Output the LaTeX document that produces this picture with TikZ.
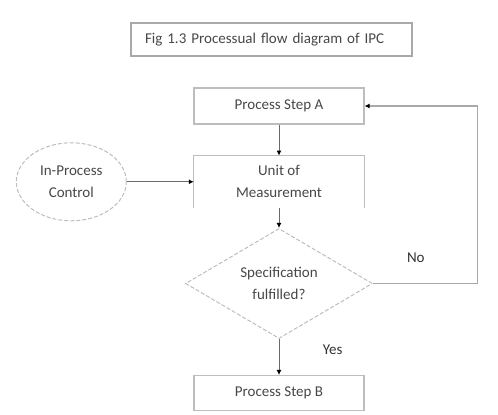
\documentclass[tikz,border=0pt]{standalone}
\usepackage{fontspec}
\setmainfont{Carlito}
\usetikzlibrary{positioning}
\usetikzlibrary{shapes.geometric,arrows.meta}
\definecolor{boxgray}{HTML}{BDBDBD}
\definecolor{linegray}{HTML}{6A6A6A}
\definecolor{loopgray}{HTML}{A9A9A9}
\definecolor{textgray}{HTML}{474747}

\begin{document}
\begin{tikzpicture}[x=1pt,y=1pt,
  >={Latex[length=5pt,width=5pt,color=black]},
  base/.style={align=center,text=textgray,font=\fontsize{15}{22}\selectfont},
  stepbox/.style={base,draw=boxgray,line width=1.2pt,minimum width=170pt},
  titlebox/.style={base,draw=loopgray,line width=2pt,align=left,text width=253pt,inner xsep=14pt,minimum height=33pt},
  decision/.style={base,diamond,draw=boxgray,line width=1pt,dash pattern=on 4pt off 2pt,inner sep=0pt,aspect=1.7,minimum width=187pt,minimum height=110pt},
  control/.style={base,ellipse,draw=boxgray,line width=1pt,dash pattern=on 4pt off 2pt,minimum width=110pt,minimum height=78pt},
  flow/.style={->,linegray,line width=1pt},
  loop/.style={->,loopgray,line width=1.5pt},
  lbl/.style={text=black!80,font=\fontsize{15}{18}\selectfont}]

  \useasboundingbox (0,0) rectangle (498,415);

  % caption at the top
  \node[titlebox] (cap) at (271.5,375.5) {Fig 1.3 Processual flow diagram of IPC};

  % main column
  \node[stepbox,minimum height=36pt] (stepA) at (279,309) {Process Step A};
  \node[base,minimum width=170pt,minimum height=52pt,below=31pt of stepA] (unit) {Unit of\\Measurement};
  \draw[boxgray,line width=1.2pt] (unit.south west) -- (unit.north west) -- (unit.north east) -- (unit.south east);
  \node[decision,below=20pt of unit] (dec) {Specification\\fulfilled?};
  \node[stepbox,minimum height=35pt,below=36pt of dec] (stepB) {Process Step B};

  % control on the left
  \node[control,left=67pt of unit] (ipc) {In-Process\\Control};

  \draw[flow] (stepA) -- (unit);
  \draw[flow] (unit) -- (dec);
  \draw[flow] (ipc) -- (unit);
  \draw[flow] (dec) -- node[lbl,pos=0.3,right=40pt]{Yes} (stepB);
  \draw[loop] (dec.east) -- node[lbl,pos=0.41,above=17pt]{No} ++(104.5,0) |- (stepA.east);
\end{tikzpicture}
\end{document}
